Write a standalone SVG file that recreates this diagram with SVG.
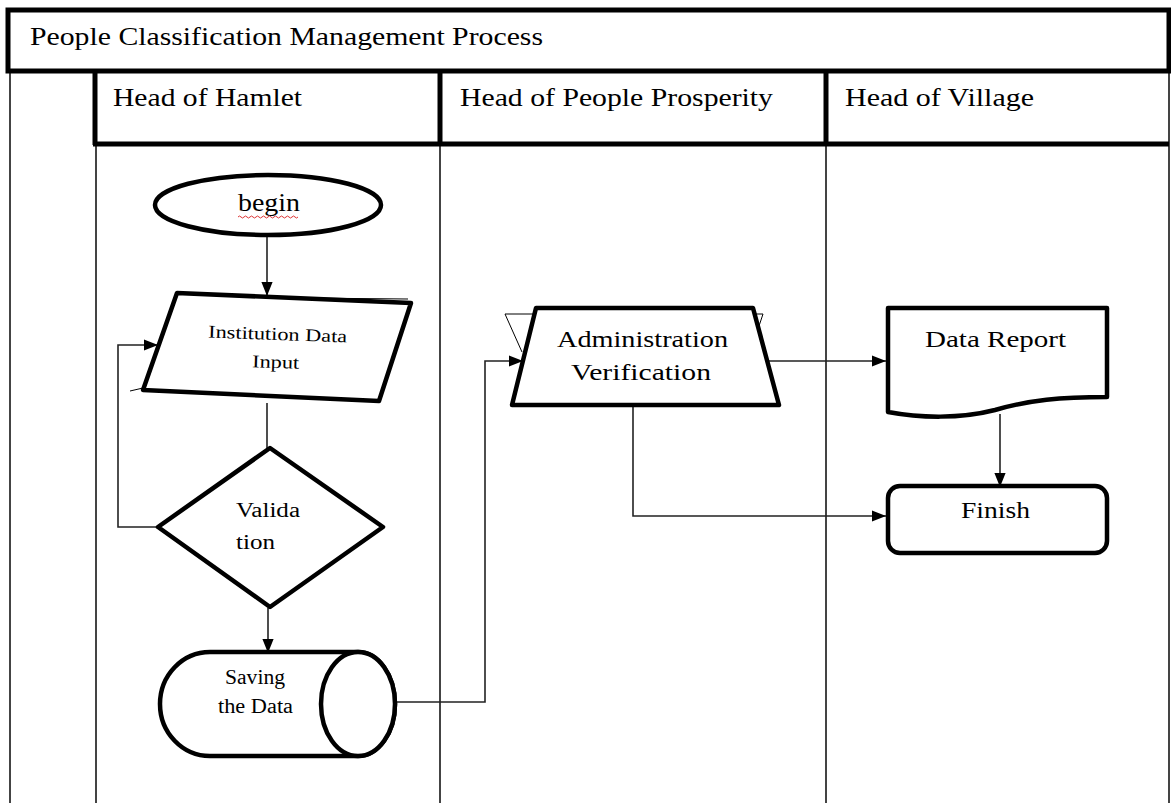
<svg xmlns="http://www.w3.org/2000/svg" width="1171" height="803" viewBox="0 0 1171 803" font-family="'Liberation Serif', 'Times New Roman', 'DejaVu Serif', serif">
<defs>
<style>
text{font-family:'Liberation Serif','Times New Roman','DejaVu Serif',serif;fill:#000}
.hd{font-size:26px}
.thick{fill:none;stroke:#000;stroke-width:5}
.thin{fill:none;stroke:#444;stroke-width:2}
.node{fill:#fff;stroke:#000;stroke-width:4.5;stroke-linejoin:round}
.conn{fill:none;stroke:#222;stroke-width:1.6}
</style>
<marker id="ahb" viewBox="0 0 10 10" refX="10" refY="5" markerWidth="14" markerHeight="14" orient="auto" markerUnits="userSpaceOnUse">
<path d="M0,1 L10,5 L0,9 Z" fill="#000"/>
</marker>
</defs>
<rect width="1171" height="803" fill="#fff"/>
<g id="pool">
<line class="thin" x1="10" y1="71" x2="10" y2="803"/>
<line class="thin" x1="1169" y1="71" x2="1169" y2="803"/>
<line class="thin" x1="96" y1="143" x2="96" y2="803"/>
<line class="thin" x1="440" y1="143" x2="440" y2="803"/>
<line class="thin" x1="826" y1="143" x2="826" y2="803"/>
<rect class="thick" x="8" y="10" width="1161" height="61"/>
<line class="thick" x1="95" y1="71" x2="95" y2="145"/>
<line class="thick" x1="440" y1="71" x2="440" y2="145"/>
<line class="thick" x1="826" y1="71" x2="826" y2="145"/>
<line class="thick" x1="93" y1="144" x2="1169" y2="144"/>
<text class="hd" x="30" y="45" textLength="513" lengthAdjust="spacingAndGlyphs">People Classification Management Process</text>
<text class="hd" x="113" y="106" textLength="189" lengthAdjust="spacingAndGlyphs">Head of Hamlet</text>
<text class="hd" x="460" y="106" textLength="313" lengthAdjust="spacingAndGlyphs">Head of People Prosperity</text>
<text class="hd" x="845" y="106" textLength="189" lengthAdjust="spacingAndGlyphs">Head of Village</text>
</g>
<g id="connectors">
<line class="conn" x1="267" y1="236" x2="267" y2="296" marker-end="url(#ahb)"/>
<line class="conn" x1="267" y1="403" x2="267" y2="449"/>
<polyline class="conn" points="158,527 118,527 118,345 158,345" marker-end="url(#ahb)"/>
<line class="conn" x1="268" y1="608" x2="268" y2="653" marker-end="url(#ahb)"/>
<polyline class="conn" points="396,702 485,702 485,361 523,361" marker-end="url(#ahb)"/>
<line class="conn" x1="769" y1="361" x2="886" y2="361" marker-end="url(#ahb)"/>
<polyline class="conn" points="633,405 633,516 886,516" marker-end="url(#ahb)"/>
<line class="conn" x1="1000" y1="414" x2="1000" y2="487" marker-end="url(#ahb)"/>
</g>
<g id="begin">
<ellipse class="node" cx="268" cy="205" rx="113" ry="30"/>
<text x="238" y="211" style="font-size:25px" textLength="62" lengthAdjust="spacingAndGlyphs">begin</text>
<path d="M238,217 q1.5,-2 3,0 t3,0 t3,0 t3,0 t3,0 t3,0 t3,0 t3,0 t3,0 t3,0 t3,0 t3,0 t3,0 t3,0 t3,0 t3,0 t3,0 t3,0 t3,0 t3,0" fill="none" stroke="#d33" stroke-width="1"/>
</g>
<g id="input">
<path d="M143,388 L158,345" fill="none" stroke="#000" stroke-width="1"/>
<path d="M130,391 L143,388" fill="none" stroke="#000" stroke-width="1"/>
<polygon class="node" points="177,293 411,303 379,401 143,390"/>
<line x1="300" y1="298" x2="408" y2="299" stroke="#000" stroke-width="1"/>
<text x="208" y="340" style="font-size:18px" transform="rotate(2 277 340)" textLength="139" lengthAdjust="spacingAndGlyphs">Institution Data</text>
<text x="252" y="368" style="font-size:18px" transform="rotate(2 275 368)" textLength="47" lengthAdjust="spacingAndGlyphs">Input</text>
</g>
<g id="validation">
<polygon class="node" points="270,448 383,527 270,607 158,527"/>
<text x="236" y="517" style="font-size:20px" textLength="64" lengthAdjust="spacingAndGlyphs">Valida</text>
<text x="236" y="549" style="font-size:20px" textLength="39" lengthAdjust="spacingAndGlyphs">tion</text>
</g>
<g id="saving">
<path class="node" d="M210,652 H358 A37,52 0 0 1 358,756 H210 A50,52 0 0 1 210,652 Z"/>
<ellipse class="node" cx="358" cy="704" rx="37" ry="52"/>
<text x="225" y="684" style="font-size:20px" textLength="60" lengthAdjust="spacingAndGlyphs">Saving</text>
<text x="218" y="713" style="font-size:20px" textLength="75" lengthAdjust="spacingAndGlyphs">the Data</text>
</g>
<g id="verification">
<path d="M505,314 H540 M505,314 L522,352 M750,314 H763 L757,332" fill="none" stroke="#000" stroke-width="1"/>
<polygon class="node" points="536,308 753,308 779,405 512,405"/>
<text x="557" y="347" style="font-size:24px" textLength="171" lengthAdjust="spacingAndGlyphs">Administration</text>
<text x="571" y="380" style="font-size:24px" textLength="140" lengthAdjust="spacingAndGlyphs">Verification</text>
</g>
<g id="report">
<path class="node" d="M888,308 H1107 V397 C1060,397 1030,400 995,410 C960,419 920,418 888,412 Z"/>
<text x="925" y="347" style="font-size:24px" textLength="141" lengthAdjust="spacingAndGlyphs">Data Report</text>
</g>
<g id="finish">
<rect class="node" x="888" y="486" width="219" height="67" rx="12"/>
<text x="961" y="518" style="font-size:24px" textLength="69" lengthAdjust="spacingAndGlyphs">Finish</text>
</g>
</svg>
